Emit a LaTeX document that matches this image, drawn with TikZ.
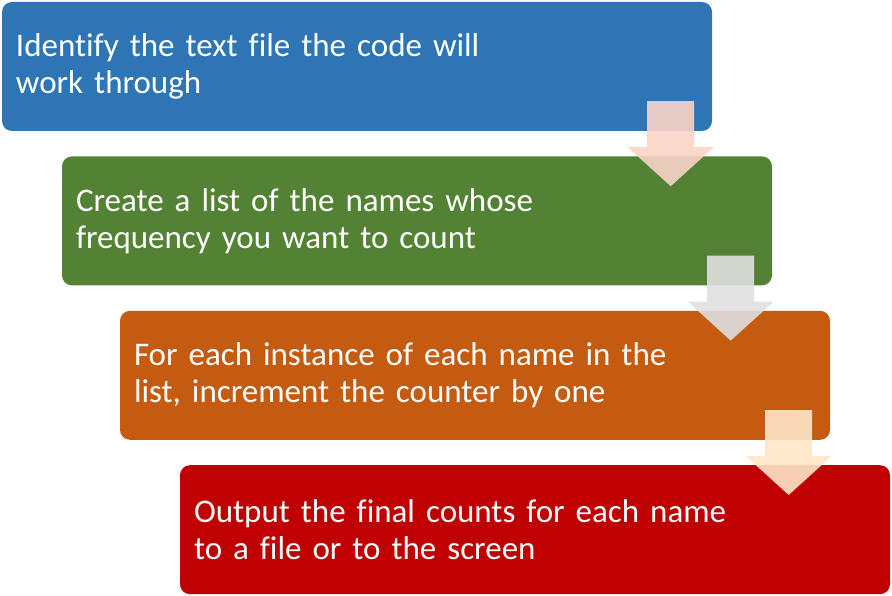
\documentclass[tikz,border=0pt]{standalone}
\usepackage{fontspec}
\setmainfont{Carlito}[Ligatures=CommonOff]
\usetikzlibrary{calc}
\usetikzlibrary{positioning}

\definecolor{stepblue}{RGB}{46,117,182}
\definecolor{stepgreen}{RGB}{84,130,53}
\definecolor{steporange}{RGB}{197,90,17}
\definecolor{stepred}{RGB}{192,0,0}
\definecolor{arrowpeach}{RGB}{249,212,199}
\definecolor{arrowgray}{RGB}{224,224,224}
\definecolor{arrowcream}{RGB}{255,230,200}

\begin{document}
\begin{tikzpicture}[x=1pt,y=-1pt,
    stepbox/.style={rectangle,rounded corners=10pt,minimum width=710pt,minimum height=129pt,
      text width=682pt,inner xsep=14pt,inner ysep=0pt,align=left,text=white,
      font=\fontsize{33}{37}\selectfont}]
      \useasboundingbox (0,0) rectangle (892,596);

      \node[stepbox,fill=stepblue] (identify) at (357,66.5)
        {Identify the text file the code will\\work through};
      \node[stepbox,fill=stepgreen,below right=25pt and 60pt of identify.south west] (names)
        {Create a list of the names whose\\frequency you want to count};
      \node[stepbox,fill=steporange,below right=25pt and 58pt of names.south west] (count)
        {For each instance of each name in the\\list, increment the counter by one};
      \node[stepbox,fill=stepred,below right=25pt and 60pt of count.south west] (output)
        {Output the final counts for each name\\to a file or to the screen};

      % block arrows between the steps
      \foreach \src/\col in {identify/arrowpeach,names/arrowgray,count/arrowcream}
        \fill[\col,opacity=0.9,shift={($(\src.south east)+(-41.5,-30)$)}]
          (-23.5,0) -- (23.5,0) -- (23.5,46) -- (43,46) -- (0,85) -- (-43,46) -- (-23.5,46) -- cycle;
    \end{tikzpicture}
\end{document}
